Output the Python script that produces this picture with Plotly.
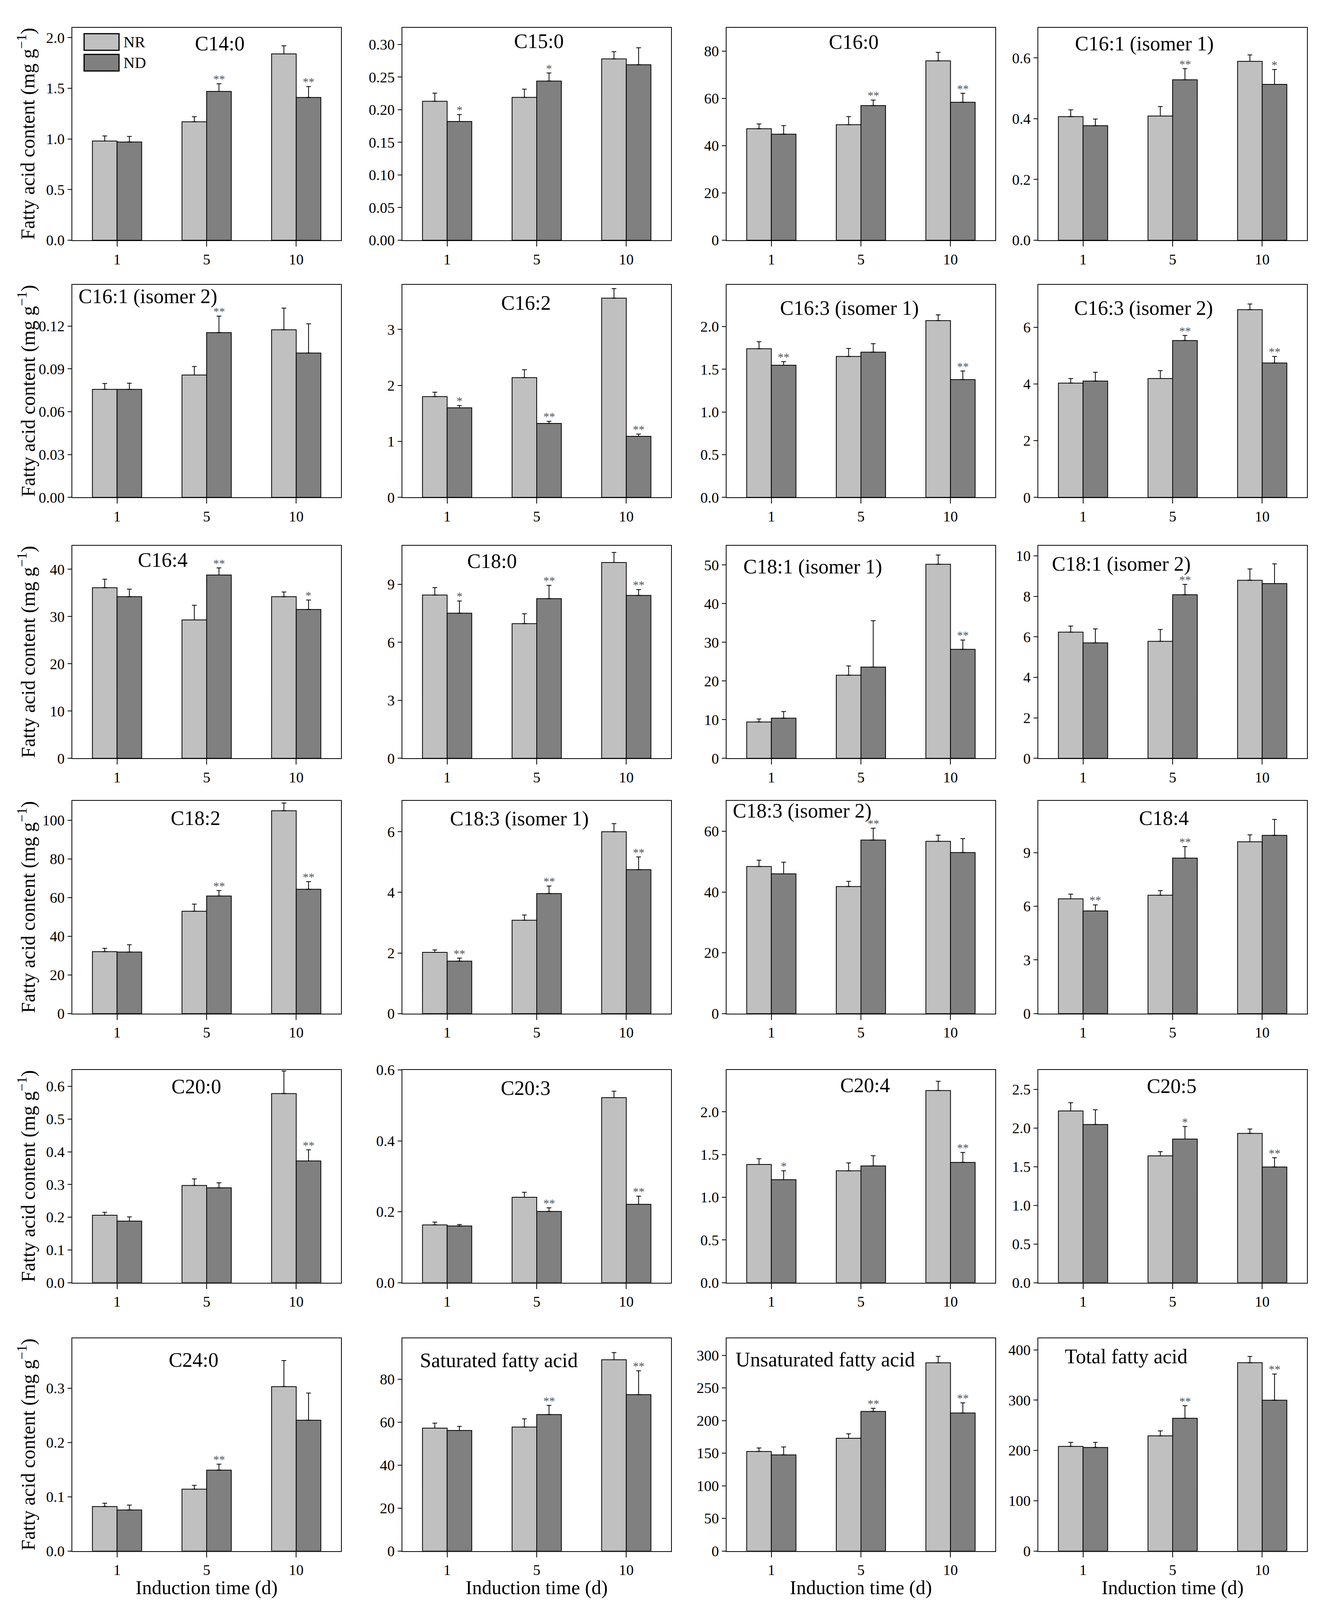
import plotly.graph_objects as go

days = ["1", "5", "10"]

panel_names = [
    "C14:0", "C15:0", "C16:0", "C16:1 (isomer 1)",
    "C16:1 (isomer 2)", "C16:2", "C16:3 (isomer 1)", "C16:3 (isomer 2)",
    "C16:4", "C18:0", "C18:1 (isomer 1)", "C18:1 (isomer 2)",
    "C18:2", "C18:3 (isomer 1)", "C18:3 (isomer 2)", "C18:4",
    "C20:0", "C20:3", "C20:4", "C20:5",
    "C24:0", "Saturated fatty acid", "Unsaturated fatty acid", "Total fatty acid",
]

# NR (nitrogen replete) means and SD, per panel, at day 1, 5, 10
nr_means = [
    [0.98, 1.17, 1.84], [0.213, 0.219, 0.278], [47.2, 48.9, 75.9], [0.407, 0.409, 0.589],
    [0.0757, 0.0857, 0.1174], [1.80, 2.14, 3.56], [1.74, 1.65, 2.07], [4.03, 4.19, 6.62],
    [36.1, 29.3, 34.2], [8.45, 6.97, 10.13], [9.4, 21.5, 50.2], [6.23, 5.78, 8.79],
    [32.0, 52.9, 104.9], [2.02, 3.08, 6.00], [48.4, 41.8, 56.7], [6.42, 6.62, 9.61],
    [0.206, 0.297, 0.578], [0.163, 0.241, 0.522], [1.384, 1.31, 2.25], [2.22, 1.64, 1.93],
    [0.082, 0.114, 0.303], [57.2, 57.7, 89.0], [152.6, 172.8, 288.5], [208, 229, 374.5],
]
nr_err = [
    [0.05, 0.05, 0.08], [0.0125, 0.0126, 0.011], [2.0, 3.4, 3.6], [0.022, 0.031, 0.021],
    [0.0041, 0.006, 0.0152], [0.08, 0.14, 0.17], [0.082, 0.094, 0.067], [0.16, 0.28, 0.20],
    [1.8, 3.1, 1.0], [0.38, 0.51, 0.52], [0.8, 2.4, 2.4], [0.30, 0.58, 0.56],
    [1.7, 3.7, 4.0], [0.08, 0.17, 0.27], [2.1, 1.7, 2.0], [0.26, 0.26, 0.39],
    [0.009, 0.020, 0.069], [0.008, 0.014, 0.018], [0.067, 0.092, 0.108], [0.107, 0.054, 0.057],
    [0.006, 0.007, 0.048], [2.3, 3.8, 3.4], [5.3, 6.8, 9.9], [8, 10, 12.5],
]

# ND (nitrogen deprived)
nd_means = [
    [0.97, 1.47, 1.41], [0.182, 0.244, 0.269], [44.9, 57.0, 58.4], [0.377, 0.528, 0.513],
    [0.0757, 0.1154, 0.1011], [1.60, 1.32, 1.09], [1.547, 1.70, 1.379], [4.10, 5.53, 4.74],
    [34.2, 38.8, 31.5], [7.51, 8.26, 8.43], [10.4, 23.6, 28.2], [5.70, 8.08, 8.63],
    [31.8, 60.8, 64.3], [1.73, 3.96, 4.75], [46.0, 57.1, 53.0], [5.74, 8.70, 9.97],
    [0.188, 0.290, 0.372], [0.160, 0.201, 0.221], [1.206, 1.367, 1.408], [2.045, 1.857, 1.496],
    [0.0756, 0.149, 0.241], [56.1, 63.5, 72.8], [147.3, 214.0, 211.6], [206, 264, 300],
]
nd_err = [
    [0.055, 0.075, 0.108], [0.0106, 0.0124, 0.026], [3.6, 2.3, 3.8], [0.022, 0.037, 0.049],
    [0.0043, 0.0116, 0.0205], [0.04, 0.04, 0.04], [0.042, 0.10, 0.10], [0.31, 0.18, 0.23],
    [1.6, 1.5, 2.0], [0.63, 0.69, 0.30], [1.7, 12.0, 2.4], [0.69, 0.51, 0.97],
    [3.8, 2.8, 3.9], [0.10, 0.25, 0.42], [3.8, 3.9, 4.6], [0.34, 0.64, 0.89],
    [0.013, 0.015, 0.034], [0.004, 0.010, 0.023], [0.104, 0.119, 0.117], [0.191, 0.163, 0.119],
    [0.009, 0.011, 0.050], [1.9, 4.3, 11.1], [12.1, 4.7, 15.5], [10, 25, 52],
]
nd_marks = [
    ["", "**", "**"], ["*", "*", ""], ["", "**", "**"], ["", "**", "*"],
    ["", "**", ""], ["*", "**", "**"], ["**", "", "**"], ["", "**", "**"],
    ["", "**", "*"], ["*", "**", "**"], ["", "", "**"], ["", "**", ""],
    ["", "**", "**"], ["**", "**", "**"], ["", "**", ""], ["**", "**", ""],
    ["", "", "**"], ["", "**", "**"], ["*", "", "**"], ["", "*", "**"],
    ["", "**", ""], ["", "**", "**"], ["", "**", "**"], ["", "**", "**"],
]

# axis settings per panel
y_max = [2.1, 0.326, 90, 0.70, 0.149, 3.8, 2.49, 7.5, 45, 11.0, 55, 10.5,
         110, 7.02, 70, 11.9, 0.65, 0.6, 2.49, 2.75, 0.392, 99, 326, 423]
y_dtick = [0.5, 0.05, 20, 0.2, 0.03, 1, 0.5, 2, 10, 3, 10, 2,
           20, 2, 20, 3, 0.1, 0.2, 0.5, 0.5, 0.1, 20, 50, 100]
y_format = [".1f", ".2f", "d", ".1f", ".2f", "d", ".1f", "d", "d", "d", "d", "d",
            "d", "d", "d", "d", ".1f", ".1f", ".1f", ".1f", ".1f", "d", "d", "d"]

# where the panel label sits inside each panel (axis-domain fractions)
title_x = [0.549, 0.508, 0.473, 0.394, 0.02, 0.46, 0.457, 0.392, 0.337, 0.333, 0.06, 0.048,
           0.459, 0.436, 0.02, 0.468, 0.461, 0.458, 0.515, 0.496, 0.452, 0.063, 0.03, 0.096]
title_y = [0.925, 0.935, 0.933, 0.924, 0.945, 0.915, 0.89, 0.89, 0.933, 0.928, 0.90, 0.914,
           0.919, 0.916, 0.952, 0.918, 0.922, 0.915, 0.927, 0.924, 0.898, 0.897, 0.90, 0.915]
title_left = {4, 10, 11, 14, 21, 22, 23}

# page geometry (px in the 3410 x 4146 window); the html body adds an 8 px margin
W, H = 3410, 4146
PAD = 8
FW, FH = W - 2 * PAD, H - 2 * PAD
col_left = [185, 1030, 1860, 2658]
col_w = 688
row_top = [50, 715, 1390, 2050, 2746, 3440]
row_h = 550
bargap = 0.45


def px_x(x):
    return (x - PAD) / FW


def px_y(y):
    return 1 - (y - PAD) / FH


FONT = "Liberation Serif"
NR_COLOR = "#c0c0c0"
ND_COLOR = "#808080"

fig = go.Figure()
annotations = []
shapes = []
layout = {}

# horizontal offset (px) of the ND bar centre from its category centre
star_shift = col_w / 3 * (1 - bargap) / 4

for i, name in enumerate(panel_names):
    r, c = divmod(i, 4)
    n = i + 1
    suffix = "" if n == 1 else str(n)
    xa, ya = "x" + suffix, "y" + suffix
    for label, means, err, color in (("NR", nr_means[i], nr_err[i], NR_COLOR),
                                     ("ND", nd_means[i], nd_err[i], ND_COLOR)):
        fig.add_trace(go.Bar(
            x=days, y=means, name=label, xaxis=xa, yaxis=ya,
            marker=dict(color=color, line=dict(color="black", width=2)),
            error_y=dict(type="data", array=err, arrayminus=[0, 0, 0], symmetric=False,
                         color="black", thickness=2, width=6),
            showlegend=False,
        ))

    # significance marks above the ND error bars (x given as category index)
    for j, mark in enumerate(nd_marks[i]):
        if mark:
            annotations.append(dict(
                x=j, y=nd_means[i][j] + nd_err[i][j], xref=xa, yref=ya,
                xshift=star_shift, yshift=-6, yanchor="bottom", showarrow=False,
                text=mark, font=dict(family=FONT, size=30, color="#555555"),
            ))

    annotations.append(dict(
        x=title_x[i], y=title_y[i], xref=f"{xa} domain", yref=f"{ya} domain",
        xanchor="left" if i in title_left else "center", yanchor="middle",
        showarrow=False, text=name, font=dict(family=FONT, size=52, color="black"),
    ))

    left = col_left[c]
    top = row_top[r]
    axis_common = dict(showline=True, mirror=True, linecolor="black", linewidth=2,
                       ticks="outside", tickcolor="black", tickwidth=2, showgrid=False,
                       zeroline=False, tickfont=dict(family=FONT, size=38, color="black"))
    xkey = "xaxis" + suffix
    ykey = "yaxis" + suffix
    layout[xkey] = dict(axis_common, domain=[px_x(left), px_x(left + col_w)], anchor=ya,
                        type="category", categoryorder="array", categoryarray=days,
                        range=[-0.5, 2.5], ticklen=14)
    layout[ykey] = dict(axis_common, domain=[px_y(top + row_h), px_y(top)], anchor=xa,
                        range=[0, y_max[i]], dtick=y_dtick[i], tick0=0,
                        tickformat=y_format[i], ticklen=10)

    if r == 5:
        annotations.append(dict(
            x=0.5, y=px_y(4084), xref=f"{xa} domain", yref="paper",
            xanchor="center", yanchor="middle", showarrow=False,
            text="Induction time (d)", font=dict(family=FONT, size=50, color="black"),
        ))

for r in range(6):
    annotations.append(dict(
        x=px_x(68), y=px_y(row_top[r] + row_h / 2), xref="paper", yref="paper",
        textangle=-90, showarrow=False, xanchor="center", yanchor="middle",
        text="Fatty acid content (mg g<sup>\u22121</sup>)",
        font=dict(family=FONT, size=50, color="black"),
    ))

# legend drawn in the first panel, with wide swatches as in the source figure
for k, (label, color) in enumerate((("NR", NR_COLOR), ("ND", ND_COLOR))):
    y1 = 0.971 - k * 0.097
    shapes.append(dict(type="rect", xref="x domain", yref="y domain",
                       x0=0.044, x1=0.174, y0=y1 - 0.078, y1=y1,
                       fillcolor=color, line=dict(color="black", width=3)))
    annotations.append(dict(x=0.188, y=y1 - 0.039, xref="x domain", yref="y domain",
                            xanchor="left", yanchor="middle", showarrow=False, text=label,
                            font=dict(family=FONT, size=40, color="black")))

fig.update_layout(
    **layout,
    width=FW, height=FH,
    margin=dict(l=0, r=0, t=0, b=0),
    barmode="group", bargap=bargap, bargroupgap=0,
    plot_bgcolor="white", paper_bgcolor="white",
    font=dict(family=FONT, color="black"),
    showlegend=False,
    annotations=annotations,
    shapes=shapes,
)

fig.write_html("out.html")
